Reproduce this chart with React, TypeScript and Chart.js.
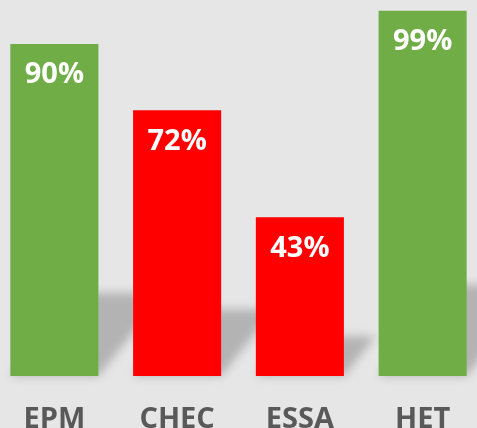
import React, { useEffect, useRef } from "react";
import { Chart, registerables } from "chart.js";

Chart.register(...registerables);

const categories = ["EPM", "CHEC", "ESSA", "HET"];
const values = [90, 72, 43, 99];
const barColors = ["#70ad47", "#ff0000", "#ff0000", "#70ad47"];
const valueLabels = ["90%", "72%", "43%", "99%"];

const FONT = "'Open Sans', 'Noto Sans', sans-serif";

const shadowPlugin = {
  id: "perspectiveShadow",
  beforeDatasetsDraw(chart: any) {
    const ctx = chart.ctx;
    const meta = chart.getDatasetMeta(0);
    ctx.save();
    ctx.filter = "blur(5px)";
    ctx.fillStyle = "rgba(0,0,0,0.22)";
    meta.data.forEach((bar: any) => {
      const half = bar.width / 2;
      const left = bar.x - half;
      const right = bar.x + half;
      const base = bar.base;
      const h = base - bar.y;
      const sh = h * 0.25;
      const dx = sh * 0.8;
      ctx.beginPath();
      ctx.moveTo(left, base);
      ctx.lineTo(right, base);
      ctx.lineTo(right + dx, base - sh);
      ctx.lineTo(left + dx, base - sh);
      ctx.closePath();
      ctx.fill();
    });
    ctx.restore();
  },
};

const labelPlugin = {
  id: "valueLabels",
  afterDatasetsDraw(chart: any) {
    const ctx = chart.ctx;
    const meta = chart.getDatasetMeta(0);
    ctx.save();
    ctx.fillStyle = "#ffffff";
    ctx.font = `bold 29px ${FONT}`;
    ctx.textAlign = "center";
    ctx.textBaseline = "middle";
    meta.data.forEach((bar: any, i: number) => {
      ctx.fillText(valueLabels[i], bar.x, bar.y + 31);
    });
    ctx.restore();
  },
};

export default function App() {
  const ref = useRef<HTMLCanvasElement | null>(null);
  useEffect(() => {
    if (!ref.current) return;
    const chart = new Chart(ref.current, {
      type: "bar",
      data: {
        labels: categories,
        datasets: [
          {
            data: values,
            backgroundColor: barColors,
            borderWidth: 0,
            categoryPercentage: 1,
            barPercentage: 0.7174,
          },
        ],
      },
      options: {
        responsive: false,
        animation: false,
        devicePixelRatio: 1,
        layout: { padding: { top: 7, left: 0, right: 0, bottom: 0 } },
        plugins: { legend: { display: false }, tooltip: { enabled: false } },
        scales: {
          y: { display: false, min: 0, max: 100 },
          x: {
            grid: { display: false, drawTicks: false },
            border: { display: false },
            ticks: {
              color: "#595959",
              font: { family: FONT, size: 29, weight: "bold" },
              padding: 26,
            },
            afterFit(scale: any) {
              scale.height = 52;
            },
          },
        },
      },
      plugins: [shadowPlugin, labelPlugin],
    });
    return () => chart.destroy();
  }, []);

  return (
    <div
      style={{
        position: "fixed",
        left: 0,
        top: 0,
        width: 477,
        height: 428,
        overflow: "hidden",
        background: "#e6e6e6",
      }}
    >
      <canvas
        ref={ref}
        width={491}
        height={428}
        style={{ position: "absolute", left: -7, top: 0, width: 491, height: 428 }}
      />
    </div>
  );
}
